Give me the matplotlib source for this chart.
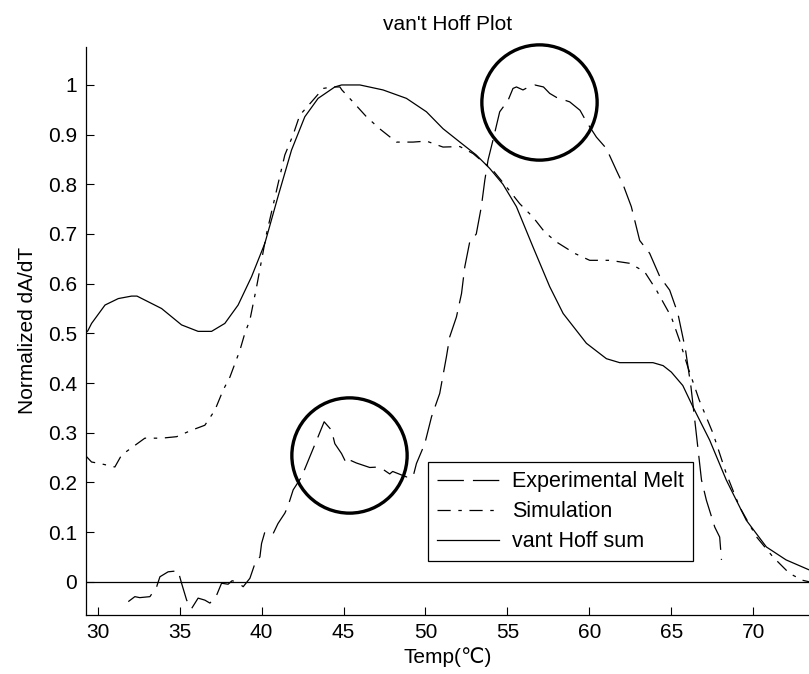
import numpy as np
import matplotlib
matplotlib.use("Agg")
import matplotlib.pyplot as plt

# ---------- GLOBAL FONT SETTINGS ----------
plt.rcParams.update({
    'font.family': ['Liberation Sans', 'DejaVu Sans'],
    'font.size': 15,
    'axes.titlesize': 15,
    'lines.scale_dashes': False,
})
# ------------------------------------------

# vant Hoff sum (solid)
temp_sum = [29.23, 29.4, 29.63, 30.45, 31.26, 32.07, 32.4, 33.9, 35.12, 36.13,
            36.95, 37.76, 38.57, 39.39, 40.2, 41.0, 41.83, 42.64, 43.45, 44.47,
            44.88, 46.0, 47.41, 48.84, 50.06, 51.07, 52.1, 53.1, 53.92, 54.73,
            55.55, 56.56, 57.58, 58.4, 59.82, 61.04, 61.85, 63.88, 64.5, 65.0,
            65.7, 66.32, 67.34, 68.35, 69.57, 70.8, 72.0, 73.4]
vant_hoff_sum = [0.50, 0.505, 0.52, 0.557, 0.570, 0.575, 0.575, 0.55, 0.517, 0.504,
                 0.504, 0.52, 0.557, 0.614, 0.681, 0.775, 0.869, 0.936, 0.973, 0.996,
                 1.0, 1.0, 0.99, 0.973, 0.946, 0.912, 0.885, 0.859, 0.832, 0.80,
                 0.755, 0.674, 0.594, 0.54, 0.48, 0.449, 0.441, 0.441, 0.435, 0.422,
                 0.395, 0.352, 0.285, 0.205, 0.124, 0.07, 0.044, 0.024]

# Simulation (dash-dot)
temp_sim = [29.23, 29.63, 30.14, 31.05, 31.46, 32.17, 32.88, 33.9, 34.82, 35.73,
            36.54, 37.15, 37.66, 38.07, 38.68, 38.98, 39.29, 39.7, 40.3, 41.0,
            41.42, 41.93, 42.33, 43.05, 43.76, 44.3, 44.78, 44.9, 45.49, 46.4,
            47.2, 48.23, 49.24, 50.06, 51.07, 52.1, 52.9, 54.12, 54.94, 55.75,
            56.56, 57.27, 57.99, 59.1, 60.02, 61.24, 62.46, 63.37, 64.09, 65.0,
            65.5, 66.0, 66.7, 67.54, 68.35, 69.16, 70.18, 71.2, 72.2, 73.0, 73.4]
simulation = [0.255, 0.241, 0.238, 0.231, 0.255, 0.272, 0.289, 0.289, 0.292, 0.305,
              0.315, 0.345, 0.386, 0.412, 0.466, 0.50, 0.527, 0.594, 0.70, 0.80,
              0.859, 0.90, 0.939, 0.966, 0.993, 0.996, 0.996, 0.99, 0.969, 0.936,
              0.912, 0.885, 0.885, 0.887, 0.875, 0.876, 0.862, 0.828, 0.795, 0.761,
              0.734, 0.704, 0.684, 0.661, 0.647, 0.647, 0.641, 0.624, 0.587, 0.533,
              0.486, 0.433, 0.366, 0.299, 0.218, 0.151, 0.091, 0.05, 0.017, 0.003, 0.0]

# Experimental Melt (long dash)
temp_exp = [31.87, 32.27, 32.57, 33.19, 33.6, 33.8, 34.3, 34.91, 35.12, 35.43,
            35.73, 36.13, 36.54, 36.85, 37.26, 37.56, 37.96, 38.2, 38.48, 38.88,
            39.29, 39.6, 39.9, 40.0, 40.2, 40.71, 41.0, 41.42, 41.6, 41.93,
            42.44, 42.95, 43.45, 43.82, 44.27, 44.47, 44.88, 45.18, 45.38, 45.79,
            46.6, 47.2, 47.82, 48.0, 48.84, 49.24, 49.45, 49.96, 50.37, 50.87,
            51.28, 51.48, 51.89, 52.2, 52.4, 52.7, 53.1, 53.41, 53.62, 53.82,
            54.12, 54.53, 55.04, 55.34, 55.55, 55.95, 56.3, 56.67, 57.2, 57.58,
            57.99, 58.8, 59.43, 59.82, 60.43, 61.04, 61.65, 62.05, 62.56, 63.07,
            63.68, 64.3, 64.9, 65.4, 65.87, 66.2, 66.5, 66.84, 67.14, 67.65,
            67.95, 68.06]
experimental = [-0.04, -0.03, -0.032, -0.03, -0.01, 0.01, 0.02, 0.022, -0.003, -0.037,
                -0.054, -0.033, -0.037, -0.043, -0.027, -0.003, -0.005, 0.002, 0.0, -0.01,
                0.007, 0.037, 0.05, 0.077, 0.10, 0.097, 0.117, 0.138, 0.151, 0.185,
                0.211, 0.252, 0.292, 0.322, 0.305, 0.278, 0.258, 0.238, 0.245, 0.239,
                0.23, 0.231, 0.217, 0.222, 0.211, 0.211, 0.238, 0.278, 0.332, 0.379,
                0.453, 0.493, 0.533, 0.58, 0.634, 0.684, 0.70, 0.755, 0.808, 0.849,
                0.889, 0.946, 0.969, 0.993, 0.996, 0.99, 0.996, 1.0, 0.996, 0.983,
                0.975, 0.966, 0.949, 0.926, 0.895, 0.872, 0.828, 0.80, 0.755, 0.687,
                0.661, 0.614, 0.587, 0.54, 0.466, 0.392, 0.305, 0.205, 0.164, 0.11,
                0.09, 0.044]

# highlighted regions (circle centres)
circle_x = [56.91, 45.35]
circle_y = [0.966, 0.256]

x_ticks = [30, 35, 40, 45, 50, 55, 60, 65, 70]
y_ticks = [0, 0.1, 0.2, 0.3, 0.4, 0.5, 0.6, 0.7, 0.8, 0.9, 1]
y_ticklabels = ['0', '0.1', '0.2', '0.3', '0.4', '0.5', '0.6', '0.7', '0.8', '0.9', '1']

LW = 0.9
EXP_DASH = (0, (19, 6.5))
SIM_DASH = (0, (9.5, 5.5, 2.5, 5.5))

fig = plt.figure(figsize=(8.09, 6.74), dpi=100)
ax = fig.add_axes([0.1057, 0.0875, 0.8943, 0.8432])

ax.plot(temp_exp, experimental, color='k', lw=LW, ls=EXP_DASH, label='Experimental Melt')
ax.plot(temp_sim, simulation, color='k', lw=LW, ls=SIM_DASH, label='Simulation')
ax.plot(temp_sum, vant_hoff_sum, color='k', lw=LW, ls='-', label='vant Hoff sum')
ax.axhline(0, color='k', lw=0.9)

ax.plot(circle_x, circle_y, ls='none', marker='o', ms=83, mfc='none',
        mec='k', mew=2.4, clip_on=False)

ax.set_xlim(29.26, 73.4)
ax.set_ylim(-0.067, 1.077)
ax.set_xticks(x_ticks)
ax.set_yticks(y_ticks)
ax.set_yticklabels(y_ticklabels)
ax.tick_params(direction='in', length=5.5, width=0.8, top=False, right=False)
ax.tick_params(axis='x', pad=5.5)
ax.tick_params(axis='y', pad=6)
for side in ['top', 'right']:
    ax.spines[side].set_visible(False)
for side in ['left', 'bottom']:
    ax.spines[side].set_linewidth(0.9)

ax.set_title("van't Hoff Plot", pad=12)
ax.set_xlabel('Temp(\u2103)', labelpad=4)
ax.set_ylabel('Normalized dA/dT', labelpad=8)

leg = ax.legend(loc='upper left', bbox_to_anchor=(0.4734, 0.2692),
                borderaxespad=0, fancybox=False, framealpha=1,
                edgecolor='k', fontsize=15.5, handlelength=2.9, handletextpad=0.6,
                labelspacing=0.42, borderpad=0.42)
leg.get_frame().set_linewidth(0.9)

fig.savefig('out.png', dpi=100)
